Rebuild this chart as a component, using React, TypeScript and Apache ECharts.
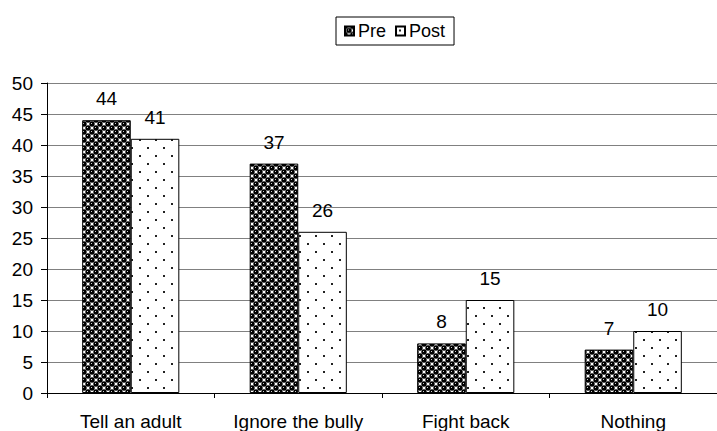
import React, { useEffect, useRef } from "react";
import * as echarts from "echarts";

const categories = ["Tell an adult", "Ignore the bully", "Fight back", "Nothing"];
const preValues = [44, 37, 8, 7];
const postValues = [41, 26, 15, 10];
const seriesNames = ["Pre", "Post"];

const FONT = "'Liberation Sans', Arial, sans-serif";
const FS = 19;

function makePrePattern(): HTMLCanvasElement {
  const c = document.createElement("canvas");
  c.width = 8;
  c.height = 8;
  const ctx = c.getContext("2d")!;
  ctx.fillStyle = "#ffffff";
  ctx.fillRect(0, 0, 8, 8);
  const centers = [
    [4, 4],
    [0, 0],
    [8, 0],
    [0, 8],
    [8, 8],
  ];
  ctx.fillStyle = "#000000";
  for (const [x, y] of centers) {
    ctx.beginPath();
    ctx.arc(x, y, 2.7, 0, Math.PI * 2);
    ctx.fill();
  }
  ctx.fillStyle = "#cccccc";
  ctx.fillRect(3, 3, 1, 1);
  ctx.fillRect(7, 7, 1, 1);
  return c;
}

function makePostPattern(): HTMLCanvasElement {
  const c = document.createElement("canvas");
  c.width = 16;
  c.height = 16;
  const ctx = c.getContext("2d")!;
  ctx.fillStyle = "#ffffff";
  ctx.fillRect(0, 0, 16, 16);
  ctx.fillStyle = "#222222";
  ctx.fillRect(3, 3, 2, 2);
  ctx.fillRect(11, 11, 2, 2);
  return c;
}

export default function App() {
  const ref = useRef<HTMLDivElement>(null);
  useEffect(() => {
    document.body.style.margin = "0";
    if (!ref.current) return;
    const chart = echarts.init(ref.current, null, { renderer: "svg" });
    const preImg = makePrePattern();
    const postImg = makePostPattern();
    const labelCfg = {
      show: true,
      position: "top",
      distance: 12,
      fontSize: FS,
      color: "#000",
      fontFamily: FONT,
    };
    chart.setOption({
      animation: false,
      backgroundColor: "#ffffff",
      textStyle: { fontFamily: FONT },
      legend: {
        data: seriesNames,
        left: 336,
        top: 17,
        orient: "horizontal",
        borderColor: "#000",
        borderWidth: 1,
        padding: [5, 9, 5, 8],
        itemWidth: 9,
        itemHeight: 9,
        itemGap: 9,
        icon: "rect",
        textStyle: { fontSize: 18, color: "#000", fontFamily: FONT, padding: [0, 0, 0, -1] },
      },
      grid: { left: 47, right: 0, top: 83, bottom: 38, containLabel: false },
      xAxis: {
        type: "category",
        data: categories,
        axisLine: { show: true, lineStyle: { color: "#000", width: 1 } },
        axisTick: { show: true, length: 5, interval: 0, lineStyle: { color: "#000" } },
        axisLabel: { fontSize: FS, color: "#000", margin: 19, interval: 0, fontFamily: FONT },
      },
      yAxis: {
        type: "value",
        min: 0,
        max: 50,
        interval: 5,
        axisLine: { show: true, lineStyle: { color: "#000", width: 1 } },
        axisTick: { show: true, length: 6, lineStyle: { color: "#000" } },
        axisLabel: { fontSize: FS, color: "#000", margin: 14, fontFamily: FONT },
        splitLine: { show: true, lineStyle: { color: "#808080", width: 1 } },
      },
      series: [
        {
          name: seriesNames[0],
          type: "bar",
          data: preValues,
          barGap: "0%",
          barCategoryGap: "42%",
          itemStyle: {
            color: { image: preImg, repeat: "repeat", imageWidth: 8, imageHeight: 8 },
            borderColor: "#000",
            borderWidth: 1,
          },
          label: labelCfg,
        },
        {
          name: seriesNames[1],
          type: "bar",
          data: postValues,
          barGap: "0%",
          barCategoryGap: "42%",
          itemStyle: {
            color: { image: postImg, repeat: "repeat", imageWidth: 16, imageHeight: 16 },
            borderColor: "#000",
            borderWidth: 1,
          },
          label: labelCfg,
        },
      ],
    });
    return () => chart.dispose();
  }, []);
  return <div ref={ref} style={{ width: 717, height: 431 }} />;
}
